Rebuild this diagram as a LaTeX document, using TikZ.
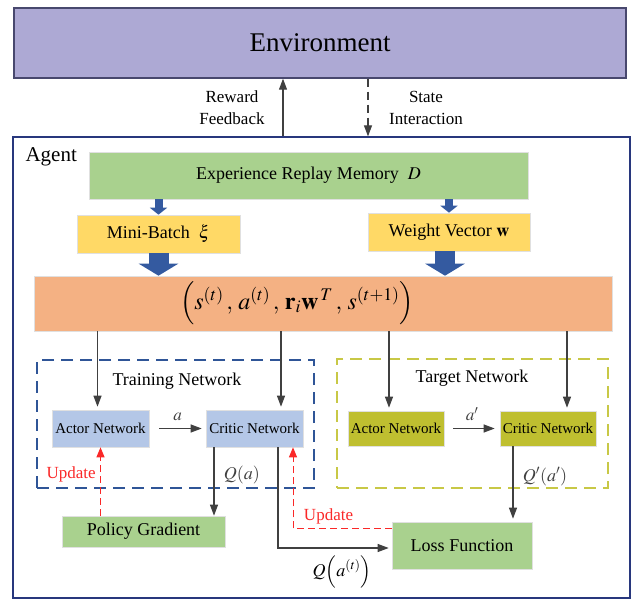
\documentclass[tikz,border=0pt]{standalone}
\usepackage{mathptmx}
\usepackage{fontspec}
\setmainfont{Liberation Serif}
\usepackage{tikz}
\usetikzlibrary{arrows.meta, positioning, calc}
\definecolor{envcolor}{RGB}{173, 169, 212}
\definecolor{envborder}{RGB}{72, 72, 110}
\definecolor{agentborder}{RGB}{40, 55, 125}
\definecolor{memcolor}{RGB}{169, 209, 142}
\definecolor{batchcolor}{RGB}{255, 217, 102}
\definecolor{tuplecolor}{RGB}{244, 177, 131}
\definecolor{traincolor}{RGB}{180, 199, 231}
\definecolor{targetcolor}{RGB}{191, 191, 48}
\definecolor{trainborder}{RGB}{47, 85, 151}
\definecolor{targetborder}{RGB}{200, 200, 70}
\definecolor{flowcolor}{RGB}{52, 90, 160}
\definecolor{linecolor}{RGB}{64, 64, 64}
\definecolor{updatecolor}{RGB}{250, 40, 40}
\newcommand{\envfont}{\fontsize{27}{30}\selectfont}
\newcommand{\diagfont}{\fontsize{18}{22}\selectfont}
\newcommand{\netfont}{\fontsize{15}{18}\selectfont}

\begin{document}
\begin{tikzpicture}[
    x=1pt, y=-1pt,
    every node/.style={font=\diagfont},
    box/.style={draw=black!12, line width=0.6pt, inner sep=0pt},
    mem/.style={box, fill=memcolor},
    batch/.style={box, fill=batchcolor},
    tuple/.style={box, fill=tuplecolor},
    net/.style={box, minimum width=97pt, minimum height=37pt, font=\netfont},
    zone/.style={dashed, dash pattern=on 12pt off 7pt, line width=1.3pt, minimum width=0pt},
    arrow/.style={-{Triangle[width=8pt, length=11pt]}, line width=1.1pt, color=linecolor},
    smallflow/.style={-{Triangle[width=17pt, length=7pt]}, line width=8pt, color=flowcolor},
    bigflow/.style={-{Triangle[width=39pt, length=12pt]}, line width=20pt, color=flowcolor},
    update/.style={-{Triangle[width=8pt, length=10pt]}, dash pattern=on 7pt off 4pt, line width=1pt, color=updatecolor}
]
    \useasboundingbox (0,0) rectangle (638,602);

    % Environment
    \node[draw=envborder, line width=1.4pt, fill=envcolor, minimum width=612pt, minimum height=70pt, font=\envfont] (env) at (320,43) {Environment};

    % Agent
    \node[draw=agentborder, line width=1.2pt, minimum width=617pt, minimum height=461pt] (agent) at (321.5,367.5) {};
    \node[font=\fontsize{21}{24}\selectfont, anchor=west] (agentlbl) at (22,157) {Agent};

    % Memory and sampling
    \node[mem, minimum width=439pt, minimum height=47pt] (mem) at (308.5,175.5) {Experience Replay Memory\ \ $D$};
    \node[batch, minimum width=163pt, minimum height=38pt] (batch) at (158.5,234) {Mini-Batch\ \ $\xi$};
    \node[batch, minimum width=162pt, minimum height=38pt] (wvec) at (449,232) {Weight Vector $\mathbf{w}$};
    \node[tuple, minimum width=578pt, minimum height=55pt] (tuple) at (323,303.5) {};
    \node[font=\fontsize{24}{28}\selectfont] (tupletext) at (297,303) {$\left(s^{(t)}\,,\,a^{(t)}\,,\,\mathbf{r}_i\mathbf{w}^{\,T}\,,\,s^{(t+1)}\right)$};

    % Training Network
    \node[zone, draw=trainborder, minimum width=277pt, minimum height=128pt] (train) at (175.5,424) {};
    \node (trainlbl) at (177,381) {Training Network};
    \node[net, fill=traincolor] (actA) at (100.5,428.5) {Actor Network};
    \node[net, fill=traincolor] (critA) at (254.5,428.5) {Critic Network};

    % Target Network
    \node[zone, draw=targetborder, minimum width=271pt, minimum height=129pt] (target) at (472.5,423.5) {};
    \node (targetlbl) at (472,378) {Target Network};
    \node[net, fill=targetcolor, minimum width=96pt, minimum height=35pt] (actB) at (396,428.5) {Actor Network};
    \node[net, fill=targetcolor, minimum width=96pt, minimum height=35pt] (critB) at (548,428.5) {Critic Network};

    % Outputs
    \node[mem, minimum width=163pt, minimum height=31pt] (pg) at (143.5,531.5) {Policy Gradient};
    \node[mem, minimum width=140pt, minimum height=47pt] (loss) at (462,545.5) {Loss Function};

    % Environment <-> Agent
    \coordinate (rw) at (283,0);
    \coordinate (st) at (368,0);
    \draw[arrow] (agent.north -| rw) -- (env.south -| rw);
    \draw[arrow, dash pattern=on 8pt off 5pt] (env.south -| st) -- (agent.north -| st);
    \node[align=center, font=\fontsize{17}{22}\selectfont] (rwlbl) at (232,108) {Reward\\Feedback};
    \node[align=center, font=\fontsize{17}{22}\selectfont] (stlbl) at (426,108) {State\\Interaction};

    % Sampling flows
    \coordinate (wflow) at ([xshift=-4pt]wvec.south);
    \draw[smallflow] (batch.north |- mem.south) -- (batch.north);
    \draw[smallflow] (wvec.north |- mem.south) -- (wvec.north);
    \draw[bigflow] (batch.south) -- (tuple.north -| batch.south);
    \draw[bigflow] (wflow) -- (tuple.north -| wflow);

    % Inputs to networks
    \coordinate (inA1) at ([xshift=-3pt]actA.north);
    \coordinate (inA2) at ([xshift=26.5pt]critA.north);
    \coordinate (inB1) at ([xshift=-7pt]actB.north);
    \coordinate (inB2) at ([xshift=19pt]critB.north);
    \draw[arrow, shorten >=3pt] (tuple.south -| inA1) -- (inA1);
    \draw[arrow, shorten >=3pt] (tuple.south -| inA2) -- (inA2);
    \draw[arrow, shorten >=3pt] (tuple.south -| inB1) -- (inB1);
    \draw[arrow, shorten >=3pt] (tuple.south -| inB2) -- (inB2);

    % Actions
    \draw[arrow, shorten <=10pt, shorten >=4pt] (actA.east) -- (critA.west) node[midway, above=4pt, font=\fontsize{17}{20}\selectfont] {$a$};
    \draw[arrow, shorten <=9pt, shorten >=5pt] (actB.east) -- (critB.west) node[midway, above=4pt, font=\fontsize{17}{20}\selectfont] {$a'$};

    % Q values
    \coordinate (qa) at ([xshift=-40.5pt]critA.south);
    \draw[arrow] (qa) -- (pg.north -| qa) node[pos=0.4, right=6pt] {$Q(a)$};
    \coordinate (qb) at ([xshift=-35pt]critB.south);
    \draw[arrow, shorten >=3pt] (qb) -- (loss.north -| qb) node[pos=0.4, right=6pt] {$Q'(a')$};
    \coordinate (qt) at ([xshift=23.5pt]critA.south);
    \draw[arrow, shorten >=3pt] (qt) |- ([yshift=-2.5pt]loss.west);
    \node (qtlbl) at (342,572) {$Q\Bigl(a^{(t)}\Bigr)$};

    % Updates
    \draw[update] (pg.north -| actA.south) -- (actA.south) node[pos=0.6, left=1pt, font=\fontsize{17}{20}\selectfont, text=updatecolor] {Update};
    \coordinate (upB) at ([xshift=38.5pt]critA.south);
    \coordinate (upL) at ([yshift=-7pt]loss.north west);
    \draw[update] (upL) -| (upB) node[pos=0.32, above=1pt, font=\fontsize{17}{20}\selectfont, text=updatecolor] {Update};
\end{tikzpicture}
\end{document}
